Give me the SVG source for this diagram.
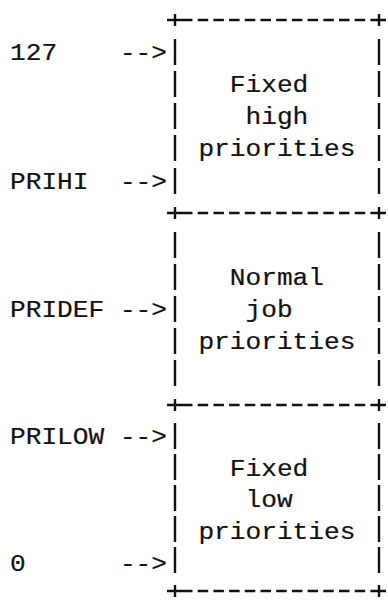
<svg xmlns="http://www.w3.org/2000/svg" width="388" height="604" viewBox="0 0 388 604">
<style>
text{font-family:"Liberation Mono","DejaVu Sans Mono",monospace;font-size:23px;fill:#111;stroke:#111;stroke-width:0.2}
.dash{stroke:#111;stroke-width:2.4;fill:none;stroke-dasharray:10.5 5.2}
.bar{stroke:#111;stroke-width:2.4;fill:none}
</style>
<rect width="388" height="604" fill="#fff"/>
<g id="box-high">
<path class="dash" d="M182,20 H372"/>
<path class="bar" d="M167,20 H182 M175,14 V26 M372,20 H386 M379,14 V26"/>
<path class="bar" d="M175,39 V65 M175,71 V97 M175,103 V129 M175,135 V161 M175,168 V194 M379,39 V65 M379,71 V97 M379,103 V129 M379,135 V161 M379,168 V194"/>
<text x="229.8" y="92" textLength="78.5" lengthAdjust="spacingAndGlyphs">Fixed</text>
<text x="245.5" y="124" textLength="62.8" lengthAdjust="spacingAndGlyphs">high</text>
<text x="198.4" y="156" textLength="157" lengthAdjust="spacingAndGlyphs">priorities</text>
</g>
<g id="box-normal">
<path class="dash" d="M182,213 H372"/>
<path class="bar" d="M167,213 H182 M175,207 V219 M372,213 H386 M379,207 V219"/>
<path class="bar" d="M175,232 V258 M175,264 V290 M175,296 V322 M175,328 V354 M175,360 V386 M379,232 V258 M379,264 V290 M379,296 V322 M379,328 V354 M379,360 V386"/>
<text x="229.8" y="285" textLength="94.2" lengthAdjust="spacingAndGlyphs">Normal</text>
<text x="245.5" y="317" textLength="47.1" lengthAdjust="spacingAndGlyphs">job</text>
<text x="198.4" y="349" textLength="157" lengthAdjust="spacingAndGlyphs">priorities</text>
</g>
<g id="box-low">
<path class="dash" d="M182,405 H372 M182,591 H372"/>
<path class="bar" d="M167,405 H182 M175,399 V411 M372,405 H386 M379,399 V411 M167,591 H182 M175,585 V597 M372,591 H386 M379,585 V597"/>
<path class="bar" d="M175,423 V449 M175,454 V480 M175,485 V511 M175,516 V542 M175,547 V573 M379,423 V449 M379,454 V480 M379,485 V511 M379,516 V542 M379,547 V573"/>
<text x="229.8" y="476" textLength="78.5" lengthAdjust="spacingAndGlyphs">Fixed</text>
<text x="245.5" y="507" textLength="47.1" lengthAdjust="spacingAndGlyphs">low</text>
<text x="198.4" y="539" textLength="157" lengthAdjust="spacingAndGlyphs">priorities</text>
</g>
<g id="labels">
<text x="10" y="60" textLength="47.1" lengthAdjust="spacingAndGlyphs">127</text>
<text x="10" y="189" textLength="78.5" lengthAdjust="spacingAndGlyphs">PRIHI</text>
<text x="10" y="317" textLength="94.2" lengthAdjust="spacingAndGlyphs">PRIDEF</text>
<text x="10" y="444" textLength="94.2" lengthAdjust="spacingAndGlyphs">PRILOW</text>
<text x="10" y="571" textLength="15.7" lengthAdjust="spacingAndGlyphs">0</text>
</g>
<g id="connectors">
<text x="119.9" y="60" textLength="47.1" lengthAdjust="spacingAndGlyphs">--&gt;</text>
<text x="119.9" y="189" textLength="47.1" lengthAdjust="spacingAndGlyphs">--&gt;</text>
<text x="119.9" y="317" textLength="47.1" lengthAdjust="spacingAndGlyphs">--&gt;</text>
<text x="119.9" y="444" textLength="47.1" lengthAdjust="spacingAndGlyphs">--&gt;</text>
<text x="119.9" y="571" textLength="47.1" lengthAdjust="spacingAndGlyphs">--&gt;</text>
</g>
</svg>
